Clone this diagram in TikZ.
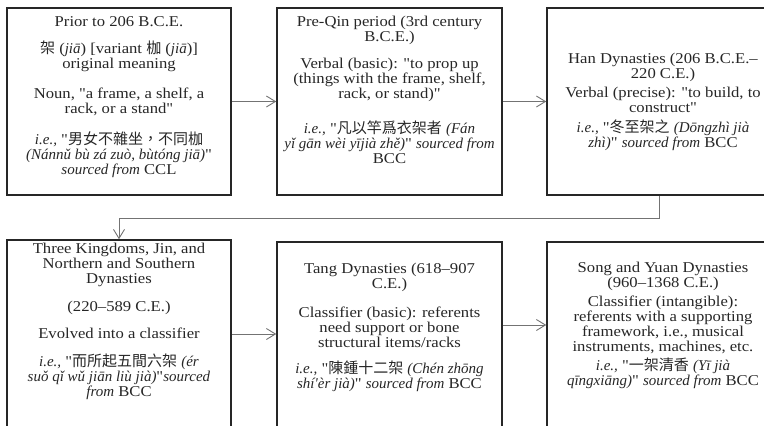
\documentclass[tikz,border=0pt]{standalone}
\usepackage{fontspec}
\setmainfont{Liberation Serif}[Ligatures=TeXOff,UprightFeatures={FakeStretch=1.11}]
\newfontfamily\cjkfont{Noto Sans CJK TC}
\usetikzlibrary{arrows.meta}
\newcommand\zhtxt[1]{{\upshape\cjkfont #1}}
\begin{document}
\begin{tikzpicture}[x=1pt,y=-1pt,
 box/.style={draw=black!85,line width=1.5pt,inner sep=0pt},
 txt/.style={align=center,font=\fontsize{15}{15.1}\selectfont,text=black!85,inner sep=0pt},
 conn/.style={draw=black!55,line width=0.9pt},
 arr/.style={conn,-{Straight Barb[length=9pt,width=11pt,line width=0.9pt]}}]
\useasboundingbox (0,0) rectangle (764,426);
\begin{scope}
\clip (0,0) rectangle (764,426);
\node[box,minimum width=224pt,minimum height=187pt] (b1) at (119,101.5) {};
\node[box,minimum width=225pt,minimum height=187pt] (b2) at (389.5,101.5) {};
\node[box,minimum width=233pt,minimum height=187pt] (b3) at (663.5,101.5) {};
\node[box,minimum width=224pt,minimum height=188pt] (b4) at (119,334) {};
\node[box,minimum width=225pt,minimum height=200pt] (b5) at (389.5,342) {};
\node[box,minimum width=233pt,minimum height=200pt] (b6) at (663.5,342) {};
\end{scope}

\node[txt] (t1) at (119,97) {Prior to 206 B.C.E.\\[12pt]
\zhtxt{架} (\textit{jiā}) [variant \zhtxt{枷} (\textit{jiā})]\\
original meaning\\[15pt]
Noun, "a frame, a shelf, a\\
rack, or a stand"\\[16pt]
\textit{i.e.,} "\zhtxt{男女不雜坐，不同枷}\\
\textit{(Nánnǔ bù zá zuò, bùtóng jiā)}"\\
\textit{sourced from} CCL};

\node[txt] (t2) at (389.5,90) {Pre-Qin period (3rd century\\
B.C.E.)\\[12pt]
Verbal (basic): "to prop up\\
(things with the frame, shelf,\\
rack, or stand)"\\[18pt]
\textit{i.e.,} "\zhtxt{凡以竿爲衣架者} \textit{(Fán}\\
\textit{yǐ gān wèi yījià zhě)}" \textit{sourced from}\\
BCC};

\node[txt] (t3) at (663,102) {Han Dynasties (206 B.C.E.–\\
220 C.E.)\\[3pt]
Verbal (precise): "to build, to\\
construct"\\[5pt]
\textit{i.e.,} "\zhtxt{冬至架之} \textit{(Dōngzhì jià}\\
\textit{zhì)}" \textit{sourced from} BCC};

\node[txt] (t4) at (119,321.5) {Three Kingdoms, Jin, and\\
Northern and Southern\\
Dynasties\\[12pt]
(220–589 C.E.)\\[12pt]
Evolved into a classifier\\[13pt]
\textit{i.e.,} "\zhtxt{而所起五間六架} \textit{(ér}\\
\textit{suǒ qǐ wǔ jiān liù jià)}"\textit{sourced}\\
\textit{from} BCC};

\node[txt] (t5) at (389.5,327.5) {Tang Dynasties (618–907\\
C.E.)\\[13pt]
Classifier (basic): referents\\
need support or bone\\
structural items/racks\\[11pt]
\textit{i.e.,} "\zhtxt{陳鍾十二架} \textit{(Chén zhōng}\\
\textit{shí'èr jià)}" \textit{sourced from} BCC};

\node[txt] (t6) at (663,325.5) {Song and Yuan Dynasties\\
(960–1368 C.E.)\\[4pt]
Classifier (intangible):\\
referents with a supporting\\
framework, i.e., musical\\
instruments, machines, etc.\\[4pt]
\textit{i.e.,} "\zhtxt{一架清香} \textit{(Yī jià}\\
\textit{qīngxiāng)}" \textit{sourced from} BCC};

\coordinate (turn) at (659,218);
\coordinate (r2) at (0,325);
\draw[arr] (b1.east) -- (b2.west);
\draw[arr] (b2.east) -- (b3.west);
\draw[arr] (b3.south -| turn) -- (turn) -| (b4.north);
\draw[arr] (b4.east) -- (b5.west |- b4.east);
\draw[arr] (b5.east |- r2) -- (b6.west |- r2);
\end{tikzpicture}
\end{document}
